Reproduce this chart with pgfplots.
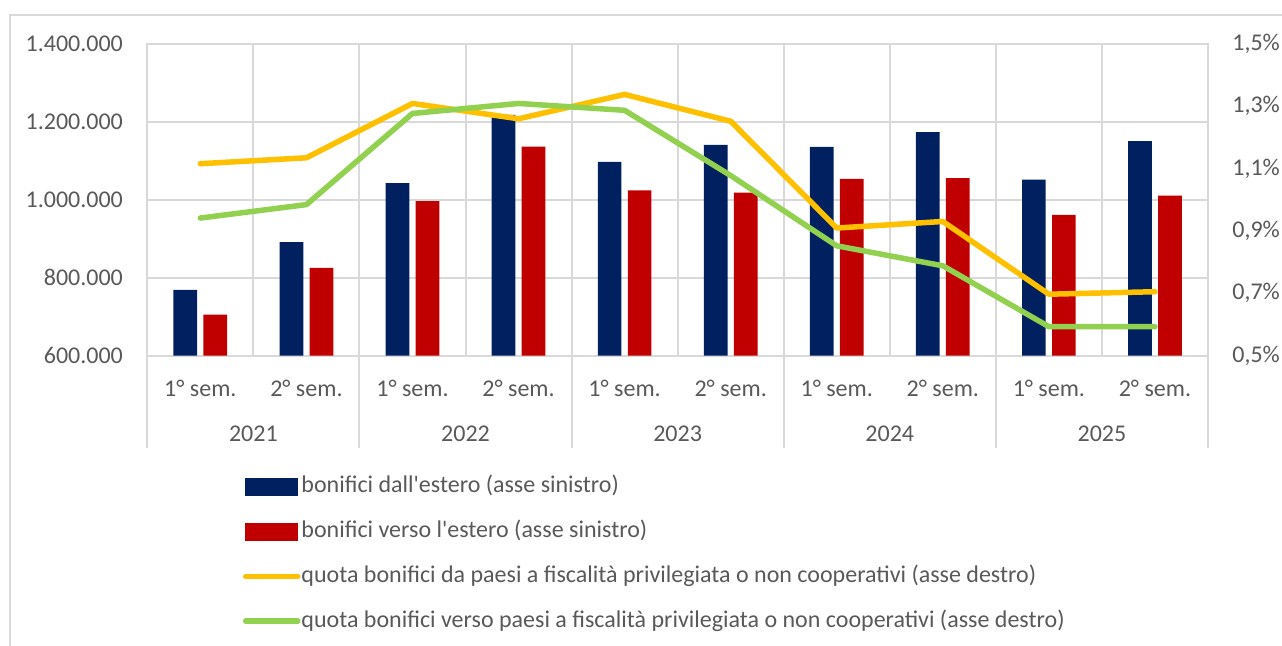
\documentclass[border=0pt]{standalone}
\usepackage{fontspec}
\setmainfont{Carlito}[Ligatures=TeXOff]
\usepackage{pgfplots}
\pgfplotsset{compat=1.18}
\definecolor{cnavy}{HTML}{002060}
\definecolor{cred}{HTML}{C00000}
\definecolor{cyellow}{HTML}{FFC000}
\definecolor{cgreen}{HTML}{92D050}
\definecolor{cgrid}{HTML}{D9D9D9}
\definecolor{ctext}{HTML}{595959}
\newcommand{\lbl}{\fontsize{12}{14}\selectfont}
\begin{document}
\begin{tikzpicture}
\path[use as bounding box] (0,0) rectangle (641pt,-322.5pt);
\fill[white] (0,0) rectangle (641pt,-322.5pt);
\draw[cgrid, line width=1.2pt] (5pt,-340pt) -- (5pt,-7.5pt) -- (660pt,-7.5pt);
\pgfplotsset{common/.style={
  at={(73.65pt,-177.85pt)}, anchor=south west,
  scale only axis, width=530.35pt, height=156.1pt,
  xmin=-0.5, xmax=9.5,
  tick label style={font=\lbl, text=ctext},
  major tick length=0pt, minor tick length=0pt,
  tick style={draw=none},
  axis line style={cgrid, line width=1pt},
}}
\begin{axis}[common,
  ymin=600000, ymax=1400000,
  ytick={600000,800000,1000000,1200000,1400000},
  yticklabels={600.000,800.000,1.000.000,1.200.000,1.400.000},
  yticklabel style={anchor=east, inner sep=0pt, xshift=-12pt},
  xtick={0,1,2,3,4,5,6,7,8,9},
  xticklabels={1° sem.,2° sem.,1° sem.,2° sem.,1° sem.,2° sem.,1° sem.,2° sem.,1° sem.,2° sem.},
  xticklabel style={anchor=center, inner sep=0pt, yshift=-16.15pt},
  minor xtick={0.5,1.5,2.5,3.5,4.5,5.5,6.5,7.5,8.5},
  xminorgrids, ymajorgrids,
  major grid style={cgrid, line width=1pt},
  minor grid style={cgrid, line width=1pt},
  clip mode=individual,
  scaled y ticks=false,
]
\addplot[ybar, bar width=11.85pt, bar shift=-7.5pt, fill=cnavy, draw=none] coordinates {
 (0,769000) (1,891000) (2,1042000) (3,1217000) (4,1097000)
 (5,1140000) (6,1135000) (7,1173000) (8,1051000) (9,1150000)};
\addplot[ybar, bar width=11.85pt, bar shift=7.5pt, fill=cred, draw=none] coordinates {
 (0,705000) (1,825000) (2,996000) (3,1136000) (4,1024000)
 (5,1018000) (6,1053000) (7,1055000) (8,961000) (9,1010000)};
\pgfplotsinvokeforeach{-0.5,1.5,3.5,5.5,7.5,9.5}{
  \draw[cgrid, line width=1pt] (axis cs:#1,600000) -- ([yshift=-46.15pt]axis cs:#1,600000);
}
\node[font=\lbl, text=ctext, yshift=-39.15pt] at (axis cs:0.5,600000) {2021};
\node[font=\lbl, text=ctext, yshift=-39.15pt] at (axis cs:2.5,600000) {2022};
\node[font=\lbl, text=ctext, yshift=-39.15pt] at (axis cs:4.5,600000) {2023};
\node[font=\lbl, text=ctext, yshift=-39.15pt] at (axis cs:6.5,600000) {2024};
\node[font=\lbl, text=ctext, yshift=-39.15pt] at (axis cs:8.5,600000) {2025};
\end{axis}
\begin{axis}[common,
  ymin=0.5, ymax=1.5,
  axis y line*=right, axis x line=none,
  ytick={0.5,0.7,0.9,1.1,1.3,1.5},
  yticklabels={{0,5\%},{0,7\%},{0,9\%},{1,1\%},{1,3\%},{1,5\%}},
  yticklabel style={anchor=west, inner sep=0pt, xshift=12pt},
  legend style={at={(0.0902,-0.6352)}, anchor=west, draw=none, fill=none,
    inner sep=0pt, outer sep=0pt, row sep=10.35pt, column sep=0.5pt,
    font=\lbl, text=ctext,
    nodes={inner sep=0pt, text height=9pt, text depth=3pt}},
  legend cell align=left,
]
\addlegendimage{legend image code/.code={\fill[cnavy] (0pt,-4.25pt) rectangle (26pt,4.25pt);}}
\addlegendentry{bonifici dall'estero (asse sinistro)}
\addlegendimage{legend image code/.code={\fill[cred] (0pt,-4.25pt) rectangle (26pt,4.25pt);}}
\addlegendentry{bonifici verso l'estero (asse sinistro)}
\addplot[cyellow, line width=2.75pt, line join=round, line cap=round,
  legend image code/.code={\draw[cyellow, line width=2.75pt, line cap=round] (0pt,0pt) -- (26pt,0pt);}] coordinates {
 (0,1.115) (1,1.134) (2,1.308) (3,1.259) (4,1.337)
 (5,1.251) (6,0.909) (7,0.930) (8,0.697) (9,0.705)};
\addlegendentry{quota bonifici da paesi a fiscalità privilegiata o non cooperativi (asse destro)}
\addplot[cgreen, line width=2.75pt, line join=round, line cap=round,
  legend image code/.code={\draw[cgreen, line width=2.75pt, line cap=round] (0pt,0pt) -- (26pt,0pt);}] coordinates {
 (0,0.941) (1,0.984) (2,1.276) (3,1.308) (4,1.286)
 (5,1.077) (6,0.852) (7,0.788) (8,0.593) (9,0.593)};
\addlegendentry{quota bonifici verso paesi a fiscalità privilegiata o non cooperativi (asse destro)}
\end{axis}
\end{tikzpicture}
\end{document}
